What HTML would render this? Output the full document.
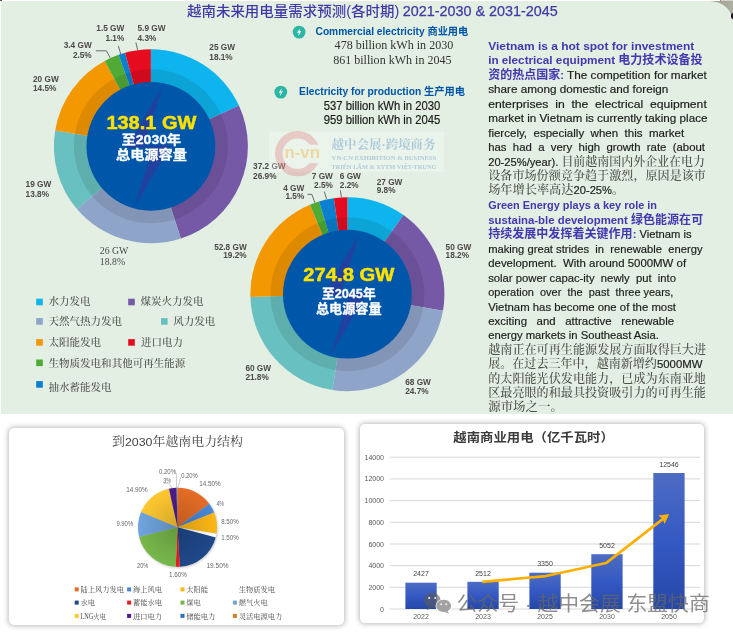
<!DOCTYPE html><html><head><meta charset="utf-8"><title>Vietnam electricity demand forecast</title>
<style>
html,body{margin:0;padding:0;background:#fff}
body{width:733px;height:633px;position:relative;overflow:hidden;font-family:"Liberation Sans","Noto Sans CJK SC",sans-serif}
.corner{position:absolute;left:708px;top:1px;width:25px;height:24px;background:linear-gradient(100deg,#96967e 0%,#a6a692 45%,#b0b2a8 100%)}
.topbar{position:absolute;left:720px;top:0;width:13px;height:1px;background:#d2d2d2;border-left:1px solid #8a8a8a}
.blob{position:absolute;left:731px;top:12.5px;width:4px;height:6.5px;border-radius:2px;background:#1c1224}
.panel{position:absolute;left:1px;top:1px;width:732px;height:412.5px;background:#e2efe2;border-top-right-radius:23.5px 21px}
.card{position:absolute;background:#fff;border-radius:5px;box-shadow:0 0 5px 1px rgba(0,0,0,.27)}
#c1{left:8.5px;top:427.7px;width:335px;height:197.3px}
#c2{left:360px;top:424.2px;width:343.6px;height:199.2px}
svg{position:absolute;left:0;top:0}
text{white-space:pre}
</style></head><body>
<div class="corner"></div><div class="topbar"></div><div class="panel"></div><div class="blob"></div><div class="card" id="c1"></div><div class="card" id="c2"></div>
<svg width="733" height="633" viewBox="0 0 733 633">
<rect x="0" y="0" width="2" height="1" fill="#555"/>
<text x="187.0" y="15.7" font-family="Liberation Sans, Noto Sans CJK SC, sans-serif" font-size="14" fill="#3f3aa6" font-weight="500" text-anchor="start" textLength="212.2" lengthAdjust="spacingAndGlyphs" >越南未来用电量需求预测(各时期)</text>
<text x="402.7" y="15.8" font-family="Liberation Sans, Noto Sans CJK SC, sans-serif" font-size="14.5" fill="#3f3aa6" font-weight="normal" text-anchor="start" textLength="155.0" lengthAdjust="spacingAndGlyphs" stroke="#3f3aa6" stroke-width="0.25">2021-2030 &amp; 2031-2045</text>
<path d="M150.90,146.30 L150.90,49.30 A97,97 0 0 1 238.93,105.55 Z" fill="#0eb4ed" />
<path d="M150.90,146.30 L238.93,105.55 A97,97 0 0 1 180.87,238.55 Z" fill="#7559a6" />
<path d="M150.90,146.30 L180.87,238.55 A97,97 0 0 1 76.94,209.06 Z" fill="#8fa4c9" />
<path d="M150.90,146.30 L76.94,209.06 A97,97 0 0 1 55.19,130.52 Z" fill="#69c0c0" />
<path d="M150.90,146.30 L55.19,130.52 A97,97 0 0 1 104.70,61.01 Z" fill="#f39800" />
<path d="M150.90,146.30 L104.70,61.01 A97,97 0 0 1 118.62,54.83 Z" fill="#4fab35" />
<path d="M150.90,146.30 L118.62,54.83 A97,97 0 0 1 125.01,52.82 Z" fill="#0b7fd0" />
<path d="M150.90,146.30 L125.01,52.82 A97,97 0 0 1 150.90,49.30 Z" fill="#e50c20" />
<circle cx="150.9" cy="146.3" r="77" fill="#000" fill-opacity="0.09"/>
<circle cx="150.9" cy="146.3" r="64.4" fill="#0056a9"/>
<path d="M162.4,86.6 L144.3,145.2 L170.2,145.2 L134.6,206.5 L152.8,147.8 L126.6,147.8 Z" fill="#20419f"/>
<path d="M347.40,294.20 L347.40,197.20 A97,97 0 0 1 403.45,215.03 Z" fill="#0eb4ed" />
<path d="M347.40,294.20 L403.45,215.03 A97,97 0 0 1 442.98,310.71 Z" fill="#7559a6" />
<path d="M347.40,294.20 L442.98,310.71 A97,97 0 0 1 332.39,390.03 Z" fill="#8fa4c9" />
<path d="M347.40,294.20 L332.39,390.03 A97,97 0 0 1 250.44,296.91 Z" fill="#69c0c0" />
<path d="M347.40,294.20 L250.44,296.91 A97,97 0 0 1 309.97,204.71 Z" fill="#f39800" />
<path d="M347.40,294.20 L309.97,204.71 A97,97 0 0 1 319.04,201.44 Z" fill="#4fab35" />
<path d="M347.40,294.20 L319.04,201.44 A97,97 0 0 1 333.90,198.14 Z" fill="#0b7fd0" />
<path d="M347.40,294.20 L333.90,198.14 A97,97 0 0 1 347.40,197.20 Z" fill="#e50c20" />
<circle cx="347.4" cy="294.2" r="77" fill="#000" fill-opacity="0.09"/>
<circle cx="347.4" cy="294.2" r="64.4" fill="#0056a9"/>
<path d="M358.9,234.5 L340.8,293.1 L366.7,293.1 L331.1,354.4 L349.3,295.7 L323.1,295.7 Z" fill="#20419f"/>
<text x="151.4" y="129.2" font-family="Liberation Sans, Noto Sans CJK SC, sans-serif" font-size="17.5" fill="#ffe100" font-weight="bold" text-anchor="middle" textLength="90.0" lengthAdjust="spacingAndGlyphs" stroke="#ffe100" stroke-width="0.45">138.1 GW</text>
<text x="151.4" y="144.1" font-family="Liberation Sans, Noto Sans CJK SC, sans-serif" font-size="12.6" fill="#fff" font-weight="bold" text-anchor="middle" textLength="59.3" lengthAdjust="spacingAndGlyphs" stroke="#fff" stroke-width="0.3">至2030年</text>
<text x="151.4" y="158.8" font-family="Liberation Sans, Noto Sans CJK SC, sans-serif" font-size="12.6" fill="#fff" font-weight="bold" text-anchor="middle" textLength="70.8" lengthAdjust="spacingAndGlyphs" stroke="#fff" stroke-width="0.3">总电源容量</text>
<text x="348.8" y="281.1" font-family="Liberation Sans, Noto Sans CJK SC, sans-serif" font-size="18" fill="#ffe100" font-weight="bold" text-anchor="middle" textLength="91.0" lengthAdjust="spacingAndGlyphs" stroke="#ffe100" stroke-width="0.45">274.8 GW</text>
<text x="348.8" y="298.4" font-family="Liberation Sans, Noto Sans CJK SC, sans-serif" font-size="13" fill="#fff" font-weight="bold" text-anchor="middle" textLength="53.8" lengthAdjust="spacingAndGlyphs" stroke="#fff" stroke-width="0.3">至2045年</text>
<text x="348.8" y="313.2" font-family="Liberation Sans, Noto Sans CJK SC, sans-serif" font-size="13" fill="#fff" font-weight="bold" text-anchor="middle" textLength="65.8" lengthAdjust="spacingAndGlyphs" stroke="#fff" stroke-width="0.3">总电源容量</text>
<text x="124.3" y="31.2" font-family="Liberation Sans, Noto Sans CJK SC, sans-serif" font-size="8.25" fill="#4d4946" font-weight="bold" text-anchor="end" >1.5 GW</text>
<text x="124.3" y="41.0" font-family="Liberation Sans, Noto Sans CJK SC, sans-serif" font-size="8.25" fill="#4d4946" font-weight="bold" text-anchor="end" >1.1%</text>
<text x="137.5" y="31.2" font-family="Liberation Sans, Noto Sans CJK SC, sans-serif" font-size="8.25" fill="#4d4946" font-weight="bold" text-anchor="start" >5.9 GW</text>
<text x="137.5" y="41.0" font-family="Liberation Sans, Noto Sans CJK SC, sans-serif" font-size="8.25" fill="#4d4946" font-weight="bold" text-anchor="start" >4.3%</text>
<text x="91.7" y="47.9" font-family="Liberation Sans, Noto Sans CJK SC, sans-serif" font-size="8.25" fill="#4d4946" font-weight="bold" text-anchor="end" >3.4 GW</text>
<text x="91.7" y="57.7" font-family="Liberation Sans, Noto Sans CJK SC, sans-serif" font-size="8.25" fill="#4d4946" font-weight="bold" text-anchor="end" >2.5%</text>
<text x="209.3" y="50.3" font-family="Liberation Sans, Noto Sans CJK SC, sans-serif" font-size="8.25" fill="#4d4946" font-weight="bold" text-anchor="start" >25 GW</text>
<text x="209.3" y="60.0" font-family="Liberation Sans, Noto Sans CJK SC, sans-serif" font-size="8.25" fill="#4d4946" font-weight="bold" text-anchor="start" >18.1%</text>
<text x="33.0" y="81.7" font-family="Liberation Sans, Noto Sans CJK SC, sans-serif" font-size="8.25" fill="#4d4946" font-weight="bold" text-anchor="start" >20 GW</text>
<text x="33.0" y="91.4" font-family="Liberation Sans, Noto Sans CJK SC, sans-serif" font-size="8.25" fill="#4d4946" font-weight="bold" text-anchor="start" >14.5%</text>
<text x="25.6" y="186.7" font-family="Liberation Sans, Noto Sans CJK SC, sans-serif" font-size="8.25" fill="#4d4946" font-weight="bold" text-anchor="start" >19 GW</text>
<text x="25.6" y="196.6" font-family="Liberation Sans, Noto Sans CJK SC, sans-serif" font-size="8.25" fill="#4d4946" font-weight="bold" text-anchor="start" >13.8%</text>
<text x="253.1" y="169.4" font-family="Liberation Sans, Noto Sans CJK SC, sans-serif" font-size="8.25" fill="#4d4946" font-weight="bold" text-anchor="start" >37.2 GW</text>
<text x="253.1" y="179.0" font-family="Liberation Sans, Noto Sans CJK SC, sans-serif" font-size="8.25" fill="#4d4946" font-weight="bold" text-anchor="start" >26.9%</text>
<text x="99.8" y="253.9" font-family="Liberation Serif, Noto Serif CJK SC, serif" font-size="9.8" fill="#4d4946" font-weight="normal" text-anchor="start" >26 GW</text>
<text x="99.8" y="264.6" font-family="Liberation Serif, Noto Serif CJK SC, serif" font-size="9.8" fill="#4d4946" font-weight="normal" text-anchor="start" >18.8%</text>
<text x="246.7" y="249.7" font-family="Liberation Sans, Noto Sans CJK SC, sans-serif" font-size="8.25" fill="#4d4946" font-weight="bold" text-anchor="end" >52.8 GW</text>
<text x="246.7" y="258.2" font-family="Liberation Sans, Noto Sans CJK SC, sans-serif" font-size="8.25" fill="#4d4946" font-weight="bold" text-anchor="end" >19.2%</text>
<text x="332.9" y="179.2" font-family="Liberation Sans, Noto Sans CJK SC, sans-serif" font-size="8.25" fill="#4d4946" font-weight="bold" text-anchor="end" >7 GW</text>
<text x="332.9" y="187.7" font-family="Liberation Sans, Noto Sans CJK SC, sans-serif" font-size="8.25" fill="#4d4946" font-weight="bold" text-anchor="end" >2.5%</text>
<text x="339.8" y="179.2" font-family="Liberation Sans, Noto Sans CJK SC, sans-serif" font-size="8.25" fill="#4d4946" font-weight="bold" text-anchor="start" >6 GW</text>
<text x="339.8" y="187.7" font-family="Liberation Sans, Noto Sans CJK SC, sans-serif" font-size="8.25" fill="#4d4946" font-weight="bold" text-anchor="start" >2.2%</text>
<text x="304.3" y="191.1" font-family="Liberation Sans, Noto Sans CJK SC, sans-serif" font-size="8.25" fill="#4d4946" font-weight="bold" text-anchor="end" >4 GW</text>
<text x="304.3" y="199.1" font-family="Liberation Sans, Noto Sans CJK SC, sans-serif" font-size="8.25" fill="#4d4946" font-weight="bold" text-anchor="end" >1.5%</text>
<text x="376.7" y="184.5" font-family="Liberation Sans, Noto Sans CJK SC, sans-serif" font-size="8.25" fill="#4d4946" font-weight="bold" text-anchor="start" >27 GW</text>
<text x="376.7" y="193.0" font-family="Liberation Sans, Noto Sans CJK SC, sans-serif" font-size="8.25" fill="#4d4946" font-weight="bold" text-anchor="start" >9.8%</text>
<text x="445.6" y="249.7" font-family="Liberation Sans, Noto Sans CJK SC, sans-serif" font-size="8.25" fill="#4d4946" font-weight="bold" text-anchor="start" >50 GW</text>
<text x="445.6" y="258.2" font-family="Liberation Sans, Noto Sans CJK SC, sans-serif" font-size="8.25" fill="#4d4946" font-weight="bold" text-anchor="start" >18.2%</text>
<text x="245.4" y="371.1" font-family="Liberation Sans, Noto Sans CJK SC, sans-serif" font-size="8.25" fill="#4d4946" font-weight="bold" text-anchor="start" >60 GW</text>
<text x="245.4" y="379.6" font-family="Liberation Sans, Noto Sans CJK SC, sans-serif" font-size="8.25" fill="#4d4946" font-weight="bold" text-anchor="start" >21.8%</text>
<text x="405.2" y="385.2" font-family="Liberation Sans, Noto Sans CJK SC, sans-serif" font-size="8.25" fill="#4d4946" font-weight="bold" text-anchor="start" >68 GW</text>
<text x="405.2" y="393.6" font-family="Liberation Sans, Noto Sans CJK SC, sans-serif" font-size="8.25" fill="#4d4946" font-weight="bold" text-anchor="start" >24.7%</text>
<g fill="none" stroke="#4a4a4a" stroke-width="0.8">
<path d="M95.9,50.8 H106.4 L110.3,57.9"/><path d="M118.4,45.9 L120.7,54.2"/><path d="M135.9,42.5 L137.6,49.9"/>
<path d="M307.5,194.4 H311.9 L314.9,202.8"/><path d="M324.3,191.6 L326.6,199"/><path d="M340.3,190.4 L341.4,197"/>
</g>
<circle cx="299.1" cy="32.1" r="6.4" fill="#2db6a3"/>
<path d="M300.00,28.20 L297.00,32.80 L298.90,32.80 L298.20,36.00 L301.20,31.30 L299.30,31.30 Z" fill="#fff"/>
<circle cx="280.8" cy="92.1" r="6.4" fill="#2db6a3"/>
<path d="M281.70,88.20 L278.70,92.80 L280.60,92.80 L279.90,96.00 L282.90,91.30 L281.00,91.30 Z" fill="#fff"/>
<text x="315.5" y="35.0" font-family="Liberation Sans, Noto Sans CJK SC, sans-serif" font-size="10.4" fill="#0055a8" font-weight="bold" text-anchor="start" textLength="152.8" lengthAdjust="spacingAndGlyphs" >Commercial electricity 商业用电</text>
<text x="334.6" y="49.2" font-family="Liberation Serif, Noto Serif CJK SC, serif" font-size="12.8" fill="#333" font-weight="normal" text-anchor="start" textLength="118.7" lengthAdjust="spacingAndGlyphs" >478 billion kWh in 2030</text>
<text x="333.2" y="63.6" font-family="Liberation Serif, Noto Serif CJK SC, serif" font-size="12.8" fill="#333" font-weight="normal" text-anchor="start" textLength="118.3" lengthAdjust="spacingAndGlyphs" >861 billion kWh in 2045</text>
<text x="299.1" y="94.7" font-family="Liberation Sans, Noto Sans CJK SC, sans-serif" font-size="10.4" fill="#0055a8" font-weight="bold" text-anchor="start" textLength="166.0" lengthAdjust="spacingAndGlyphs" >Electricity for production 生产用电</text>
<text x="323.7" y="110.2" font-family="Liberation Sans, Noto Sans CJK SC, sans-serif" font-size="12" fill="#1a1a1a" font-weight="normal" text-anchor="start" textLength="116.7" lengthAdjust="spacingAndGlyphs" stroke="#1a1a1a" stroke-width="0.18">537 billion kWh in 2030</text>
<text x="323.7" y="124.4" font-family="Liberation Sans, Noto Sans CJK SC, sans-serif" font-size="12" fill="#1a1a1a" font-weight="normal" text-anchor="start" textLength="116.7" lengthAdjust="spacingAndGlyphs" stroke="#1a1a1a" stroke-width="0.18">959 billion kWh in 2045</text>
<rect x="268.8" y="131.5" width="175" height="40.3" fill="#fff" fill-opacity="0.3"/>
<defs><clipPath id="cslot"><path d="M250,120 H340 V144.8 H297.6 V163.2 H340 V190 H250 Z"/></clipPath></defs>
<circle cx="297.6" cy="153.7" r="18.85" fill="none" stroke="#d8202c" stroke-opacity="0.2" stroke-width="7.5" clip-path="url(#cslot)"/>
<text x="284.4" y="157.5" font-family="Liberation Sans, Noto Sans CJK SC, sans-serif" font-size="17" fill="#f2a31b" font-weight="bold" text-anchor="start" textLength="35.7" lengthAdjust="spacingAndGlyphs" fill-opacity="0.36">n-vn</text>
<text x="331.6" y="149.4" font-family="Liberation Serif, Noto Serif CJK SC, serif" font-size="12" fill="#3f7fc0" font-weight="bold" text-anchor="start" textLength="104.0" lengthAdjust="spacingAndGlyphs" fill-opacity="0.37">越中会展·跨境商务</text>
<text x="331.6" y="160.2" font-family="Liberation Serif, Noto Serif CJK SC, serif" font-size="6.1" fill="#3f7fc0" font-weight="bold" text-anchor="start" textLength="104.8" lengthAdjust="spacingAndGlyphs" fill-opacity="0.36">VN-CN EXHIBITION &amp; BUSINESS</text>
<text x="331.6" y="168.8" font-family="Liberation Serif, Noto Serif CJK SC, serif" font-size="6.1" fill="#3f7fc0" font-weight="bold" text-anchor="start" textLength="104.8" lengthAdjust="spacingAndGlyphs" fill-opacity="0.36">TRIỂN LÃM &amp; XTTM VIỆT-TRUNG</text>
<rect x="36.2" y="298.7" width="6.6" height="6.6" fill="#0eb4ed"/>
<text x="48.5" y="304.8" font-family="Liberation Serif, Noto Serif CJK SC, serif" font-size="10.5" fill="#505050" font-weight="500" text-anchor="start" textLength="42.1" lengthAdjust="spacingAndGlyphs" >水力发电</text>
<rect x="128.2" y="298.7" width="6.6" height="6.6" fill="#7559a6"/>
<text x="140.5" y="304.8" font-family="Liberation Serif, Noto Serif CJK SC, serif" font-size="10.5" fill="#505050" font-weight="500" text-anchor="start" textLength="63.1" lengthAdjust="spacingAndGlyphs" >煤炭火力发电</text>
<rect x="36.2" y="318.1" width="6.6" height="6.6" fill="#8fa4c9"/>
<text x="48.5" y="325.2" font-family="Liberation Serif, Noto Serif CJK SC, serif" font-size="10.5" fill="#505050" font-weight="500" text-anchor="start" textLength="73.6" lengthAdjust="spacingAndGlyphs" >天然气热力发电</text>
<rect x="161" y="318.1" width="6.6" height="6.6" fill="#69c0c0"/>
<text x="173.3" y="325.2" font-family="Liberation Serif, Noto Serif CJK SC, serif" font-size="10.5" fill="#505050" font-weight="500" text-anchor="start" textLength="42.1" lengthAdjust="spacingAndGlyphs" >风力发电</text>
<rect x="36.2" y="339.1" width="6.6" height="6.6" fill="#f39800"/>
<text x="48.5" y="346.2" font-family="Liberation Serif, Noto Serif CJK SC, serif" font-size="10.5" fill="#505050" font-weight="500" text-anchor="start" textLength="52.6" lengthAdjust="spacingAndGlyphs" >太阳能发电</text>
<rect x="128.2" y="339.1" width="6.6" height="6.6" fill="#e50c20"/>
<text x="141.0" y="346.2" font-family="Liberation Serif, Noto Serif CJK SC, serif" font-size="10.5" fill="#505050" font-weight="500" text-anchor="start" textLength="42.1" lengthAdjust="spacingAndGlyphs" >进口电力</text>
<rect x="36.2" y="359.5" width="6.6" height="6.6" fill="#4fab35"/>
<text x="48.5" y="366.6" font-family="Liberation Serif, Noto Serif CJK SC, serif" font-size="10.5" fill="#505050" font-weight="500" text-anchor="start" textLength="136.8" lengthAdjust="spacingAndGlyphs" >生物质发电和其他可再生能源</text>
<rect x="36.2" y="381.1" width="6.6" height="6.6" fill="#0b7fd0"/>
<text x="48.5" y="390.9" font-family="Liberation Serif, Noto Serif CJK SC, serif" font-size="10.5" fill="#505050" font-weight="500" text-anchor="start" textLength="63.1" lengthAdjust="spacingAndGlyphs" >抽水蓄能发电</text>
<text x="488.2" y="49.7" font-size="11.3" textLength="206.1" lengthAdjust="spacingAndGlyphs"><tspan font-family="Liberation Sans, Noto Sans CJK SC, sans-serif" font-weight="bold" fill="#4438b0" font-size="11">Vietnam is a hot spot for investment</tspan></text>
<text x="488.2" y="64.0" font-size="11.3" textLength="214.3" lengthAdjust="spacingAndGlyphs"><tspan font-family="Liberation Sans, Noto Sans CJK SC, sans-serif" font-weight="bold" fill="#4438b0" font-size="11.7">in electrical equipment </tspan><tspan font-family="Liberation Sans, Noto Sans CJK SC, sans-serif" font-weight="bold" fill="#4438b0" font-size="12">电力技术设备投</tspan></text>
<text x="488.2" y="78.6" font-size="11.3" textLength="218.6" lengthAdjust="spacingAndGlyphs"><tspan font-family="Liberation Sans, Noto Sans CJK SC, sans-serif" font-weight="bold" fill="#4438b0" font-size="12">资的热点国家</tspan><tspan font-family="Liberation Sans, Noto Sans CJK SC, sans-serif" font-weight="bold" fill="#4438b0" font-size="11">: </tspan><tspan font-family="Liberation Sans, Noto Sans CJK SC, sans-serif" fill="#1c1c1c" stroke="#1c1c1c" stroke-width="0.18" font-size="11.76">The competition for market</tspan></text>
<text x="488.2" y="93.2" font-size="11.3" textLength="180.2" lengthAdjust="spacingAndGlyphs"><tspan font-family="Liberation Sans, Noto Sans CJK SC, sans-serif" fill="#1c1c1c" stroke="#1c1c1c" stroke-width="0.18" font-size="11.3">share among domestic and foreign</tspan></text>
<text x="488.2" y="107.6" font-size="11.3" textLength="218.6" lengthAdjust="spacingAndGlyphs"><tspan font-family="Liberation Sans, Noto Sans CJK SC, sans-serif" fill="#1c1c1c" stroke="#1c1c1c" stroke-width="0.18" font-size="11.3">enterprises  in  the  electrical  equipment</tspan></text>
<text x="488.2" y="122.1" font-size="11.3" textLength="219.3" lengthAdjust="spacingAndGlyphs"><tspan font-family="Liberation Sans, Noto Sans CJK SC, sans-serif" fill="#1c1c1c" stroke="#1c1c1c" stroke-width="0.18" font-size="11.3">market in Vietnam is currently taking place</tspan></text>
<text x="488.2" y="136.8" font-size="11.3" textLength="196.0" lengthAdjust="spacingAndGlyphs"><tspan font-family="Liberation Sans, Noto Sans CJK SC, sans-serif" fill="#1c1c1c" stroke="#1c1c1c" stroke-width="0.18" font-size="11.3">fiercely,  especially  when  this  market</tspan></text>
<text x="488.2" y="151.1" font-size="11.3" textLength="216.8" lengthAdjust="spacingAndGlyphs"><tspan font-family="Liberation Sans, Noto Sans CJK SC, sans-serif" fill="#1c1c1c" stroke="#1c1c1c" stroke-width="0.18" font-size="11.3">has  had  a  very  high  growth  rate  (about</tspan></text>
<text x="488.2" y="165.6" font-size="11.3" textLength="216.8" lengthAdjust="spacingAndGlyphs"><tspan font-family="Liberation Sans, Noto Sans CJK SC, sans-serif" fill="#1c1c1c" stroke="#1c1c1c" stroke-width="0.18" font-size="11.2">20-25%/year). </tspan><tspan font-family="Liberation Serif, Noto Serif CJK SC, serif" fill="#4f4f4f" font-weight="500" font-size="12">目前越南国内外企业在电力</tspan></text>
<text x="488.2" y="179.6" font-size="11.3" textLength="217.8" lengthAdjust="spacingAndGlyphs"><tspan font-family="Liberation Serif, Noto Serif CJK SC, serif" fill="#4f4f4f" font-weight="500" font-size="12">设备市场份额竞争趋于激烈，原因是该市</tspan></text>
<text x="488.2" y="193.8" font-size="11.3" textLength="136.0" lengthAdjust="spacingAndGlyphs"><tspan font-family="Liberation Serif, Noto Serif CJK SC, serif" fill="#4f4f4f" font-weight="500" font-size="12">场年增长率高达</tspan><tspan font-family="Liberation Sans, Noto Sans CJK SC, sans-serif" fill="#1c1c1c" stroke="#1c1c1c" stroke-width="0.18" font-size="11.0">20-25%</tspan><tspan font-family="Liberation Serif, Noto Serif CJK SC, serif" fill="#4f4f4f" font-weight="500" font-size="12">。</tspan></text>
<text x="488.2" y="208.8" font-size="11.3" textLength="168.8" lengthAdjust="spacingAndGlyphs"><tspan font-family="Liberation Sans, Noto Sans CJK SC, sans-serif" font-weight="bold" fill="#4438b0" font-size="11">Green Energy plays a key role in</tspan></text>
<text x="488.2" y="223.5" font-size="11.3" textLength="215.0" lengthAdjust="spacingAndGlyphs"><tspan font-family="Liberation Sans, Noto Sans CJK SC, sans-serif" font-weight="bold" fill="#4438b0" font-size="11.35">sustaina-ble development </tspan><tspan font-family="Liberation Sans, Noto Sans CJK SC, sans-serif" font-weight="bold" fill="#4438b0" font-size="12">绿色能源在可</tspan></text>
<text x="488.2" y="237.8" font-size="11.3" textLength="203.4" lengthAdjust="spacingAndGlyphs"><tspan font-family="Liberation Sans, Noto Sans CJK SC, sans-serif" font-weight="bold" fill="#4438b0" font-size="12">持续发展中发挥着关键作用</tspan><tspan font-family="Liberation Sans, Noto Sans CJK SC, sans-serif" font-weight="bold" fill="#4438b0" font-size="11">: </tspan><tspan font-family="Liberation Sans, Noto Sans CJK SC, sans-serif" fill="#1c1c1c" stroke="#1c1c1c" stroke-width="0.18" font-size="11.2">Vietnam is</tspan></text>
<text x="488.2" y="252.7" font-size="11.3" textLength="214.3" lengthAdjust="spacingAndGlyphs"><tspan font-family="Liberation Sans, Noto Sans CJK SC, sans-serif" fill="#1c1c1c" stroke="#1c1c1c" stroke-width="0.18" font-size="11.3">making great strides  in  renewable  energy</tspan></text>
<text x="488.2" y="267.1" font-size="11.3" textLength="197.9" lengthAdjust="spacingAndGlyphs"><tspan font-family="Liberation Sans, Noto Sans CJK SC, sans-serif" fill="#1c1c1c" stroke="#1c1c1c" stroke-width="0.18" font-size="11.3">development.  With around 5000MW of</tspan></text>
<text x="488.2" y="281.6" font-size="11.3" textLength="187.8" lengthAdjust="spacingAndGlyphs"><tspan font-family="Liberation Sans, Noto Sans CJK SC, sans-serif" fill="#1c1c1c" stroke="#1c1c1c" stroke-width="0.18" font-size="11.3">solar power capac-ity  newly  put  into</tspan></text>
<text x="488.2" y="296.0" font-size="11.3" textLength="185.2" lengthAdjust="spacingAndGlyphs"><tspan font-family="Liberation Sans, Noto Sans CJK SC, sans-serif" fill="#1c1c1c" stroke="#1c1c1c" stroke-width="0.18" font-size="11.3">operation  over  the  past  three years,</tspan></text>
<text x="488.2" y="310.5" font-size="11.3" textLength="187.8" lengthAdjust="spacingAndGlyphs"><tspan font-family="Liberation Sans, Noto Sans CJK SC, sans-serif" fill="#1c1c1c" stroke="#1c1c1c" stroke-width="0.18" font-size="11.3">Vietnam has become one of the most</tspan></text>
<text x="488.2" y="324.8" font-size="11.3" textLength="185.9" lengthAdjust="spacingAndGlyphs"><tspan font-family="Liberation Sans, Noto Sans CJK SC, sans-serif" fill="#1c1c1c" stroke="#1c1c1c" stroke-width="0.18" font-size="11.3">exciting   and   attractive   renewable</tspan></text>
<text x="488.2" y="339.1" font-size="11.3" textLength="170.7" lengthAdjust="spacingAndGlyphs"><tspan font-family="Liberation Sans, Noto Sans CJK SC, sans-serif" fill="#1c1c1c" stroke="#1c1c1c" stroke-width="0.18" font-size="11.3">energy markets in Southeast Asia.</tspan></text>
<text x="488.2" y="353.6" font-size="11.3" textLength="217.9" lengthAdjust="spacingAndGlyphs"><tspan font-family="Liberation Serif, Noto Serif CJK SC, serif" fill="#4f4f4f" font-weight="500" font-size="12">越南正在可再生能源发展方面取得巨大进</tspan></text>
<text x="488.2" y="368.1" font-size="11.3" textLength="214.3" lengthAdjust="spacingAndGlyphs"><tspan font-family="Liberation Serif, Noto Serif CJK SC, serif" fill="#4f4f4f" font-weight="500" font-size="12">展。在过去三年中，越南新增约</tspan><tspan font-family="Liberation Sans, Noto Sans CJK SC, sans-serif" fill="#1c1c1c" stroke="#1c1c1c" stroke-width="0.18" font-size="11.35">5000MW</tspan></text>
<text x="488.2" y="382.7" font-size="11.3" textLength="217.8" lengthAdjust="spacingAndGlyphs"><tspan font-family="Liberation Serif, Noto Serif CJK SC, serif" fill="#4f4f4f" font-weight="500" font-size="12">的太阳能光伏发电能力，已成为东南亚地</tspan></text>
<text x="488.2" y="397.0" font-size="11.3" textLength="217.8" lengthAdjust="spacingAndGlyphs"><tspan font-family="Liberation Serif, Noto Serif CJK SC, serif" fill="#4f4f4f" font-weight="500" font-size="12">区最亮眼的和最具投资吸引力的可再生能</tspan></text>
<text x="488.2" y="411.4" font-size="11.3" textLength="74.8" lengthAdjust="spacingAndGlyphs"><tspan font-family="Liberation Serif, Noto Serif CJK SC, serif" fill="#4f4f4f" font-weight="500" font-size="12">源市场之一。</tspan></text>
<text x="177.5" y="445.5" font-family="Liberation Serif, Noto Serif CJK SC, serif" font-size="12" fill="#444" font-weight="normal" text-anchor="middle" textLength="131.0" lengthAdjust="spacingAndGlyphs" >到<tspan font-family="Liberation Sans, sans-serif" font-size="11.5">2030</tspan>年越南电力结构</text>
<defs><radialGradient id="pg" cx="50%" cy="50%" r="50%"><stop offset="0" stop-color="#000" stop-opacity="0.17"/><stop offset="0.8" stop-color="#000" stop-opacity="0.03"/><stop offset="1" stop-color="#000" stop-opacity="0.0"/></radialGradient></defs>
<circle cx="178.2" cy="528.1999999999999" r="39.8" fill="#000" fill-opacity="0.22" style="filter:blur(1.1px)"/>
<path d="M177.50,527.30 L177.50,487.80 A39.5,39.5 0 0 1 209.20,503.73 Z" fill="#e46c26" />
<path d="M177.50,527.30 L209.20,503.73 A39.5,39.5 0 0 1 214.15,512.57 Z" fill="#4a87d5" />
<path d="M177.50,527.30 L214.15,512.57 A39.5,39.5 0 0 1 216.47,533.74 Z" fill="#fdb716" />
<path d="M177.50,527.30 L216.47,533.74 A39.5,39.5 0 0 1 215.67,537.46 Z" fill="#ffffff" />
<path d="M177.50,527.30 L215.67,537.46 A39.5,39.5 0 0 1 179.78,566.73 Z" fill="#1f4889" />
<path d="M177.50,527.30 L179.78,566.73 A39.5,39.5 0 0 1 175.72,566.76 Z" fill="#ee1c1c" />
<path d="M177.50,527.30 L175.72,566.76 A39.5,39.5 0 0 1 139.14,536.72 Z" fill="#77b74b" />
<path d="M177.50,527.30 L139.14,536.72 A39.5,39.5 0 0 1 141.04,512.10 Z" fill="#6fa4dd" />
<path d="M177.50,527.30 L141.04,512.10 A39.5,39.5 0 0 1 168.94,488.74 Z" fill="#fdc830" />
<path d="M177.50,527.30 L168.94,488.74 A39.5,39.5 0 0 1 176.49,487.81 Z" fill="#4c1b8d" />
<path d="M177.50,527.30 L176.49,487.81 A39.5,39.5 0 0 1 176.99,487.80 Z" fill="#2f6fc0" />
<path d="M177.50,527.30 L176.99,487.80 A39.5,39.5 0 0 1 177.50,487.80 Z" fill="#c8831c" />
<circle cx="177.5" cy="527.3" r="39.5" fill="url(#pg)"/>
<text x="167.5" y="473.8" font-family="Liberation Sans, Noto Sans CJK SC, sans-serif" font-size="7" fill="#666" font-weight="normal" text-anchor="middle" textLength="17.0" lengthAdjust="spacingAndGlyphs" >0.20%</text>
<text x="189.5" y="477.7" font-family="Liberation Sans, Noto Sans CJK SC, sans-serif" font-size="7" fill="#666" font-weight="normal" text-anchor="middle" textLength="16.6" lengthAdjust="spacingAndGlyphs" >0.20%</text>
<text x="167.2" y="482.5" font-family="Liberation Sans, Noto Sans CJK SC, sans-serif" font-size="7" fill="#666" font-weight="normal" text-anchor="middle" textLength="7.7" lengthAdjust="spacingAndGlyphs" >3%</text>
<text x="210.0" y="486.0" font-family="Liberation Sans, Noto Sans CJK SC, sans-serif" font-size="7" fill="#666" font-weight="normal" text-anchor="middle" textLength="21.4" lengthAdjust="spacingAndGlyphs" >14.50%</text>
<text x="136.9" y="491.5" font-family="Liberation Sans, Noto Sans CJK SC, sans-serif" font-size="7" fill="#666" font-weight="normal" text-anchor="middle" textLength="21.4" lengthAdjust="spacingAndGlyphs" >14.90%</text>
<text x="220.2" y="505.5" font-family="Liberation Sans, Noto Sans CJK SC, sans-serif" font-size="7" fill="#666" font-weight="normal" text-anchor="middle" textLength="7.6" lengthAdjust="spacingAndGlyphs" >4%</text>
<text x="229.9" y="524.2" font-family="Liberation Sans, Noto Sans CJK SC, sans-serif" font-size="7" fill="#666" font-weight="normal" text-anchor="middle" textLength="17.4" lengthAdjust="spacingAndGlyphs" >8.50%</text>
<text x="124.8" y="526.2" font-family="Liberation Sans, Noto Sans CJK SC, sans-serif" font-size="7" fill="#666" font-weight="normal" text-anchor="middle" textLength="16.8" lengthAdjust="spacingAndGlyphs" >9.90%</text>
<text x="229.9" y="539.5" font-family="Liberation Sans, Noto Sans CJK SC, sans-serif" font-size="7" fill="#666" font-weight="normal" text-anchor="middle" textLength="17.4" lengthAdjust="spacingAndGlyphs" >1.50%</text>
<text x="142.7" y="568.3" font-family="Liberation Sans, Noto Sans CJK SC, sans-serif" font-size="7" fill="#666" font-weight="normal" text-anchor="middle" textLength="11.4" lengthAdjust="spacingAndGlyphs" >20%</text>
<text x="178.0" y="577.2" font-family="Liberation Sans, Noto Sans CJK SC, sans-serif" font-size="7" fill="#666" font-weight="normal" text-anchor="middle" textLength="18.0" lengthAdjust="spacingAndGlyphs" >1.60%</text>
<text x="217.5" y="568.3" font-family="Liberation Sans, Noto Sans CJK SC, sans-serif" font-size="7" fill="#666" font-weight="normal" text-anchor="middle" textLength="22.2" lengthAdjust="spacingAndGlyphs" >19.50%</text>
<g fill="none" stroke="#a6a6a6" stroke-width="0.6"><path d="M176.3,473 L176.6,487.8"/><path d="M181,476.5 L177.9,487.8"/><path d="M163.5,483.2 H168.8 L172.5,488.3"/></g>
<rect x="74.7" y="587.4" width="4" height="4" fill="#e46c26"/>
<text x="80.5" y="592.1" font-family="Liberation Serif, Noto Serif CJK SC, serif" font-size="7.2" fill="#444" font-weight="normal" text-anchor="start" textLength="43.5" lengthAdjust="spacingAndGlyphs" >陆上风力发电</text>
<rect x="127.1" y="587.4" width="4" height="4" fill="#4a87d5"/>
<text x="132.9" y="592.1" font-family="Liberation Serif, Noto Serif CJK SC, serif" font-size="7.2" fill="#444" font-weight="normal" text-anchor="start" textLength="29.0" lengthAdjust="spacingAndGlyphs" >海上风电</text>
<rect x="180.5" y="587.4" width="4" height="4" fill="#fdb716"/>
<text x="186.3" y="592.1" font-family="Liberation Serif, Noto Serif CJK SC, serif" font-size="7.2" fill="#444" font-weight="normal" text-anchor="start" textLength="21.8" lengthAdjust="spacingAndGlyphs" >太阳能</text>
<rect x="232.9" y="587.4" width="4" height="4" fill="#ffffff"/>
<text x="238.7" y="592.1" font-family="Liberation Serif, Noto Serif CJK SC, serif" font-size="7.2" fill="#444" font-weight="normal" text-anchor="start" textLength="36.2" lengthAdjust="spacingAndGlyphs" >生物质发电</text>
<rect x="74.7" y="600.6" width="4" height="4" fill="#1f4889"/>
<text x="80.5" y="605.3" font-family="Liberation Serif, Noto Serif CJK SC, serif" font-size="7.2" fill="#444" font-weight="normal" text-anchor="start" textLength="14.5" lengthAdjust="spacingAndGlyphs" >水电</text>
<rect x="127.1" y="600.6" width="4" height="4" fill="#ee1c1c"/>
<text x="132.9" y="605.3" font-family="Liberation Serif, Noto Serif CJK SC, serif" font-size="7.2" fill="#444" font-weight="normal" text-anchor="start" textLength="29.0" lengthAdjust="spacingAndGlyphs" >蓄能水电</text>
<rect x="180.5" y="600.6" width="4" height="4" fill="#77b74b"/>
<text x="186.3" y="605.3" font-family="Liberation Serif, Noto Serif CJK SC, serif" font-size="7.2" fill="#444" font-weight="normal" text-anchor="start" textLength="14.5" lengthAdjust="spacingAndGlyphs" >煤电</text>
<rect x="232.9" y="600.6" width="4" height="4" fill="#6fa4dd"/>
<text x="238.7" y="605.3" font-family="Liberation Serif, Noto Serif CJK SC, serif" font-size="7.2" fill="#444" font-weight="normal" text-anchor="start" textLength="29.0" lengthAdjust="spacingAndGlyphs" >燃气火电</text>
<rect x="74.7" y="613.9" width="4" height="4" fill="#fdc830"/>
<text x="80.5" y="618.6" font-family="Liberation Serif, Noto Serif CJK SC, serif" font-size="7.2" fill="#444" font-weight="normal" text-anchor="start" textLength="25.4" lengthAdjust="spacingAndGlyphs" >LNG火电</text>
<rect x="127.1" y="613.9" width="4" height="4" fill="#4c1b8d"/>
<text x="132.9" y="618.6" font-family="Liberation Serif, Noto Serif CJK SC, serif" font-size="7.2" fill="#444" font-weight="normal" text-anchor="start" textLength="29.0" lengthAdjust="spacingAndGlyphs" >进口电力</text>
<rect x="180.5" y="613.9" width="4" height="4" fill="#2f6fc0"/>
<text x="186.3" y="618.6" font-family="Liberation Serif, Noto Serif CJK SC, serif" font-size="7.2" fill="#444" font-weight="normal" text-anchor="start" textLength="29.0" lengthAdjust="spacingAndGlyphs" >储能电力</text>
<rect x="232.9" y="613.9" width="4" height="4" fill="#c8831c"/>
<text x="238.7" y="618.6" font-family="Liberation Serif, Noto Serif CJK SC, serif" font-size="7.2" fill="#444" font-weight="normal" text-anchor="start" textLength="43.5" lengthAdjust="spacingAndGlyphs" >灵活电源电力</text>
<text x="453.3" y="442.0" font-family="Liberation Sans, Noto Sans CJK SC, sans-serif" font-size="12.3" fill="#3c3c3c" font-weight="bold" text-anchor="start" textLength="160.6" lengthAdjust="spacingAndGlyphs" >越南商业用电（亿千瓦时）</text>
<g stroke="#d3d3d3" stroke-width="0.9">
<line x1="389.8" x2="700" y1="609.0" y2="609.0"/>
<line x1="389.8" x2="700" y1="587.3" y2="587.3"/>
<line x1="389.8" x2="700" y1="565.6" y2="565.6"/>
<line x1="389.8" x2="700" y1="544.0" y2="544.0"/>
<line x1="389.8" x2="700" y1="522.3" y2="522.3"/>
<line x1="389.8" x2="700" y1="500.6" y2="500.6"/>
<line x1="389.8" x2="700" y1="478.9" y2="478.9"/>
<line x1="389.8" x2="700" y1="457.2" y2="457.2"/>
</g>
<text x="384.0" y="611.5" font-family="Liberation Sans, Noto Sans CJK SC, sans-serif" font-size="7" fill="#595959" font-weight="normal" text-anchor="end" >0</text>
<text x="384.0" y="589.8" font-family="Liberation Sans, Noto Sans CJK SC, sans-serif" font-size="7" fill="#595959" font-weight="normal" text-anchor="end" >2000</text>
<text x="384.0" y="568.1" font-family="Liberation Sans, Noto Sans CJK SC, sans-serif" font-size="7" fill="#595959" font-weight="normal" text-anchor="end" >4000</text>
<text x="384.0" y="546.5" font-family="Liberation Sans, Noto Sans CJK SC, sans-serif" font-size="7" fill="#595959" font-weight="normal" text-anchor="end" >6000</text>
<text x="384.0" y="524.8" font-family="Liberation Sans, Noto Sans CJK SC, sans-serif" font-size="7" fill="#595959" font-weight="normal" text-anchor="end" >8000</text>
<text x="384.0" y="503.1" font-family="Liberation Sans, Noto Sans CJK SC, sans-serif" font-size="7" fill="#595959" font-weight="normal" text-anchor="end" >10000</text>
<text x="384.0" y="481.4" font-family="Liberation Sans, Noto Sans CJK SC, sans-serif" font-size="7" fill="#595959" font-weight="normal" text-anchor="end" >12000</text>
<text x="384.0" y="459.7" font-family="Liberation Sans, Noto Sans CJK SC, sans-serif" font-size="7" fill="#595959" font-weight="normal" text-anchor="end" >14000</text>
<defs><linearGradient id="bg" x1="0" y1="0" x2="0" y2="1"><stop offset="0" stop-color="#4d6cc2"/><stop offset="0.5" stop-color="#3459c3"/><stop offset="1" stop-color="#2547a8"/></linearGradient></defs>
<rect x="405.4" y="582.7" width="31.3" height="26.3" fill="url(#bg)"/>
<text x="421.0" y="576.4" font-family="Liberation Sans, Noto Sans CJK SC, sans-serif" font-size="7" fill="#404040" font-weight="normal" text-anchor="middle" >2427</text>
<text x="421.0" y="619.4" font-family="Liberation Sans, Noto Sans CJK SC, sans-serif" font-size="7" fill="#595959" font-weight="normal" text-anchor="middle" >2022</text>
<rect x="467.4" y="581.8" width="31.3" height="27.2" fill="url(#bg)"/>
<text x="483.0" y="575.5" font-family="Liberation Sans, Noto Sans CJK SC, sans-serif" font-size="7" fill="#404040" font-weight="normal" text-anchor="middle" >2512</text>
<text x="483.0" y="619.4" font-family="Liberation Sans, Noto Sans CJK SC, sans-serif" font-size="7" fill="#595959" font-weight="normal" text-anchor="middle" >2023</text>
<rect x="529.4" y="572.7" width="31.3" height="36.3" fill="url(#bg)"/>
<text x="545.0" y="566.4" font-family="Liberation Sans, Noto Sans CJK SC, sans-serif" font-size="7" fill="#404040" font-weight="normal" text-anchor="middle" >3350</text>
<text x="545.0" y="619.4" font-family="Liberation Sans, Noto Sans CJK SC, sans-serif" font-size="7" fill="#595959" font-weight="normal" text-anchor="middle" >2025</text>
<rect x="591.3" y="554.2" width="31.3" height="54.8" fill="url(#bg)"/>
<text x="607.0" y="547.9" font-family="Liberation Sans, Noto Sans CJK SC, sans-serif" font-size="7" fill="#404040" font-weight="normal" text-anchor="middle" >5052</text>
<text x="607.0" y="619.4" font-family="Liberation Sans, Noto Sans CJK SC, sans-serif" font-size="7" fill="#595959" font-weight="normal" text-anchor="middle" >2030</text>
<rect x="653.3" y="473.0" width="31.3" height="136.0" fill="url(#bg)"/>
<text x="669.0" y="466.7" font-family="Liberation Sans, Noto Sans CJK SC, sans-serif" font-size="7" fill="#404040" font-weight="normal" text-anchor="middle" >12546</text>
<text x="669.0" y="619.4" font-family="Liberation Sans, Noto Sans CJK SC, sans-serif" font-size="7" fill="#595959" font-weight="normal" text-anchor="middle" >2050</text>
<path d="M482.2,581.9 L545.9,576.1 L606,563.1 L664,518.1" fill="none" stroke="#fdb000" stroke-width="2.6" stroke-linejoin="round"/>
<path d="M669.2,514.1 L658.3,515.5 L662.6,518.9 L664.6,523.9 Z" fill="#fdb000"/>
<g fill="#5a5a5a" fill-opacity="0.62">
<path d="M432.2,592.6 a8.3,7.7 0 1 0 0.01,0 Z M428.2,607 l-1.6,3.4 l4.6,-2.2 Z"/>
</g>
<ellipse cx="443.7" cy="605.9" rx="8.3" ry="7" fill="#fff" fill-opacity="0.75"/>
<path d="M443.7,599.7 a7.3,6.2 0 1 0 0.01,0 Z M447.5,611.2 l1.6,2.6 l-4.2,-1.7 Z" fill="#9a9a9a" fill-opacity="0.92"/>
<g fill="#fff" fill-opacity="0.9"><circle cx="429.2" cy="598" r="1.1"/><circle cx="435.2" cy="598" r="1.1"/><circle cx="441.2" cy="604.2" r="0.95"/><circle cx="446.2" cy="604.2" r="0.95"/></g>
<text x="456.6" y="610.6" font-family="Liberation Sans, Noto Sans CJK SC, sans-serif" font-size="20" fill="#666" font-weight="normal" text-anchor="start" textLength="253.1" lengthAdjust="spacingAndGlyphs" fill-opacity="0.74">公众号 · 越中会展 东盟快商</text>
</svg></body></html>
